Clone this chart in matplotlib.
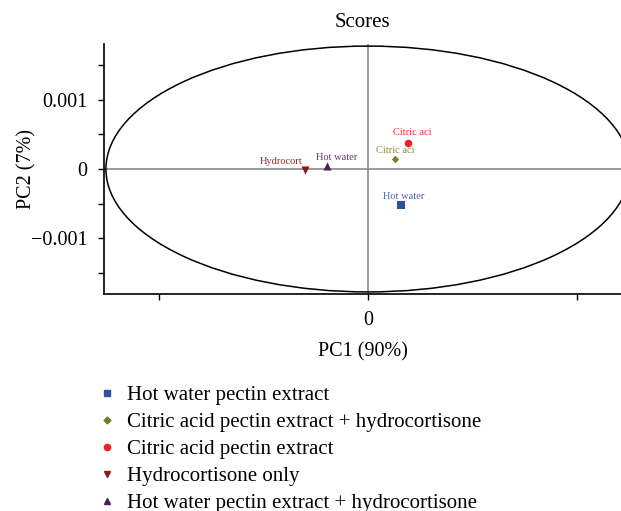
import matplotlib.pyplot as plt
from matplotlib.patches import Ellipse
from matplotlib.lines import Line2D

plt.rcParams['font.family'] = ['Liberation Serif', 'DejaVu Serif']

# PCA scores (PC1, PC2)
groups = ['Hot water pectin extract',
          'Citric acid pectin extract + hydrocortisone',
          'Citric acid pectin extract',
          'Hydrocortisone only',
          'Hot water pectin extract + hydrocortisone']
short_labels = ['Hot water', 'Citric aci', 'Citric aci', 'Hydrocort', 'Hot water']
pc1 = [0.00078, 0.00065, 0.00095, -0.00151, -0.00097]
pc2 = [-0.00052, 0.00014, 0.00037, -0.00001, 0.00004]
markers = ['s', 'D', 'o', 'v', '^']
colors = ['#2f4f9f', '#7a7a2a', '#f02020', '#8a1a22', '#4a2450']
text_colors = ['#4a62b0', '#8a8a3a', '#f03030', '#9a2a2a', '#5a3a60']

# Hotelling T2 ellipse semi-axes
ell_a = 0.00627
ell_b = 0.00177

fig = plt.figure(figsize=(6.21, 5.11), dpi=100)
ax = fig.add_axes([104 / 621, 217 / 511, 517 / 621, 250 / 511])

ax.axhline(0, color='#8a8a8a', lw=1.2, zorder=1)
ax.axvline(0, color='#8a8a8a', lw=1.2, zorder=1)
ax.add_patch(Ellipse((0, 0), 2 * ell_a, 2 * ell_b, fill=False,
                     edgecolor='black', lw=1.1, zorder=2))

sizes = [26, 14, 30, 34, 34]
offsets = [(2, 3), (0, 3), (3, 4.5), (-1.5, 3), (6.5, 3)]
for i in range(len(groups)):
    ax.scatter(pc1[i], pc2[i], marker=markers[i], color=colors[i],
               s=sizes[i], zorder=3, linewidths=0)
    ha = 'right' if short_labels[i] == 'Hydrocort' else 'center'
    ax.annotate(short_labels[i], (pc1[i], pc2[i]), xytext=offsets[i],
                textcoords='offset points', ha=ha, va='bottom',
                color=text_colors[i], fontsize=7.5)

ax.set_xlim(-0.006316, 0.006053)
ax.set_ylim(-0.0018, 0.0018)
ax.set_xticks([-0.005, 0, 0.005])
ax.set_xticklabels(['', '0', ''])
ax.set_yticks([-0.001, 0, 0.001])
ax.set_yticklabels(['\u22120.001', '0', '0.001'])
ax.set_yticks([-0.0015, -0.0005, 0.0005, 0.0015], minor=True)
ax.tick_params(axis='both', which='both', direction='out', length=4,
               width=1, labelsize=14.5, pad=8)
for s in ['top', 'right']:
    ax.spines[s].set_visible(False)
for s in ['left', 'bottom']:
    ax.spines[s].set_linewidth(1.2)

ax.set_title('Scores', fontsize=15, pad=12)
ax.set_xlabel('PC1 (90%)', fontsize=14.5, labelpad=9)
ax.set_ylabel('PC2 (7%)', fontsize=14.5, labelpad=-4)

handles = [Line2D([], [], marker=markers[i], color=colors[i], ls='',
                  markersize=4.5 if markers[i] != 'D' else 3.5)
           for i in range(len(groups))]
fig.legend(handles, groups, loc='upper left', bbox_to_anchor=(86 / 621, 136 / 511),
           frameon=False, fontsize=15, handletextpad=0.45, handlelength=1.0,
           labelspacing=0.36, borderpad=0)

fig.savefig('out.png', dpi=100)
